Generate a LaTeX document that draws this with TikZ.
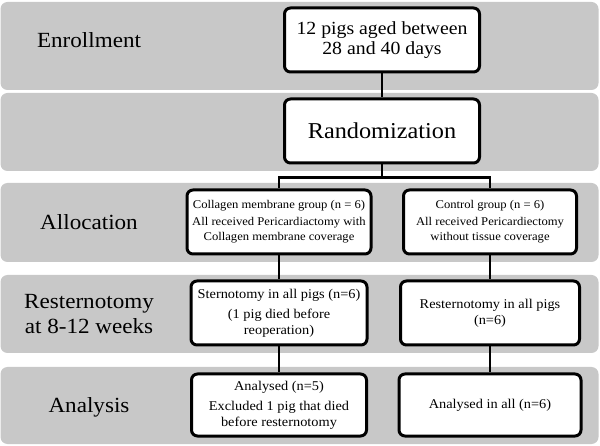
\documentclass[tikz,border=0pt]{standalone}
\usepackage{fontspec}
\setmainfont{Liberation Serif}[FakeStretch=1.07]
\usetikzlibrary{positioning}
\definecolor{bandgray}{RGB}{200,200,200}

\begin{document}
\begin{tikzpicture}[x=1pt, y=-1pt, node distance=91pt]
	\tikzset{
		band/.style={rectangle, rounded corners=7pt, fill=bandgray, minimum width=598pt, inner sep=0pt},
		stage/.style={align=center, font=\fontsize{21.6}{25}\selectfont},
		box/.style={rectangle, rounded corners=6pt, draw=black, line width=3pt, fill=white, minimum height=64pt, align=center, inner sep=2pt},
		small/.style={font=\fontsize{11.8}{15}\selectfont},
		mid/.style={font=\fontsize{13.4}{16}\selectfont},
		link/.style={line width=2.5pt},
	}
	\useasboundingbox (0,0) rectangle (600,446);
	% grey bands
	\node[band, minimum height=88pt] (enrolband) at (299.5,46) {};
	\node[band, minimum height=78pt] (randband) at (299.5,132) {};
	\node[band, minimum height=79pt] (allocband) at (299.5,222.5) {};
	\node[band, minimum height=78pt] (resternband) at (299.5,314) {};
	\node[band, minimum height=77pt] (analysband) at (299.5,405.5) {};
	% stage names
	\node[stage] (enrol) at (89,40) {Enrollment};
	\node[stage] (alloc) at (89,222) {Allocation};
	\node[stage] (restern) at (89,314) {Resternotomy\\at 8-12 weeks};
	\node[stage] (analys) at (89,407) {Analysis};
	% boxes
	\node[box, minimum width=195pt, font=\fontsize{18.5}{20}\selectfont] (pigs) at (382,40) {12 pigs aged between\\28 and 40 days};
	\node[box, below of=pigs, minimum width=195pt, font=\fontsize{22.7}{25}\selectfont] (random) {Randomization};
	\node[box, small, below of=random, xshift=-103pt, minimum width=184pt] (collagen) {Collagen membrane group (n = 6)\\[2pt]All received Pericardiactomy with\\Collagen membrane coverage};
	\node[box, small, below of=random, xshift=108pt, minimum width=173pt] (control) {Control group (n = 6)\\[2pt]All received Pericardiectomy\\without tissue coverage};
	\node[box, mid, below of=collagen, minimum width=176pt] (sternotomy) {Sternotomy in all pigs (n=6)\\[4pt](1 pig died before\\reoperation)};
	\node[box, mid, below of=control, minimum width=179pt] (resternotomy) {Resternotomy in all pigs\\(n=6)};
	\node[box, mid, below of=sternotomy, yshift=-1pt, minimum width=175pt, minimum height=62pt] (analysed) {Analysed (n=5)\\[4pt]Excluded 1 pig that died\\before resternotomy};
	\node[box, mid, below of=resternotomy, yshift=-1pt, minimum width=182pt, minimum height=62pt] (analysedall) {Analysed in all (n=6)};
	%draw links
	\draw[link] (pigs) -- (random);
	\draw[link] (random.south) -- ++(0,13) -| (collagen.north);
	\draw[link] (random.south) -- ++(0,13) -| (control.north);
	\draw[link] (collagen) -- (sternotomy);
	\draw[link] (control) -- (resternotomy);
	\draw[link] (sternotomy) -- (analysed);
	\draw[link] (resternotomy) -- (analysedall);
\end{tikzpicture}
\end{document}
